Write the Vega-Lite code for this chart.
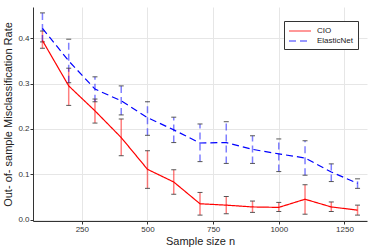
{
  "$schema": "https://vega.github.io/schema/vega-lite/v6.json",
  "width": 334,
  "height": 214,
  "autosize": "none",
  "padding": {"left": 33, "top": 7, "right": 7, "bottom": 28},
  "background": "white",
  "config": {
    "view": {"stroke": null},
    "font": "Liberation Sans",
    "axis": {
      "domainColor": "#333333",
      "domainWidth": 1,
      "tickColor": "#333333",
      "gridColor": "#e6e6e6",
      "gridWidth": 1,
      "labelFont": "Liberation Sans",
      "labelFontSize": 8,
      "labelColor": "#333333",
      "titleFont": "Liberation Sans",
      "titleFontSize": 11,
      "titleFontWeight": "normal",
      "titleColor": "#222222"
    },
    "legend": {
      "orient": "none",
      "legendX": 251,
      "legendY": 14,
      "symbolType": "M-1,0H3.4",
      "symbolSize": 100,
      "symbolStrokeWidth": 1.2,
      "symbolOpacity": 0.8,
      "labelFontSize": 8,
      "labelFont": "Liberation Sans",
      "labelColor": "#222222",
      "labelOffset": 17,
      "strokeColor": "#333333",
      "fillColor": "white",
      "padding": 4,
      "rowPadding": 0
    }
  },
  "data": {
    "values": [
      {"n": 100, "method": "CIO", "mean": 0.395, "lo": 0.378, "hi": 0.416},
      {"n": 200, "method": "CIO", "mean": 0.295, "lo": 0.252, "hi": 0.334},
      {"n": 300, "method": "CIO", "mean": 0.240, "lo": 0.213, "hi": 0.266},
      {"n": 400, "method": "CIO", "mean": 0.181, "lo": 0.141, "hi": 0.222},
      {"n": 500, "method": "CIO", "mean": 0.111, "lo": 0.069, "hi": 0.152},
      {"n": 600, "method": "CIO", "mean": 0.083, "lo": 0.056, "hi": 0.110},
      {"n": 700, "method": "CIO", "mean": 0.035, "lo": 0.010, "hi": 0.060},
      {"n": 800, "method": "CIO", "mean": 0.032, "lo": 0.013, "hi": 0.051},
      {"n": 900, "method": "CIO", "mean": 0.028, "lo": 0.016, "hi": 0.041},
      {"n": 1000, "method": "CIO", "mean": 0.027, "lo": 0.018, "hi": 0.038},
      {"n": 1100, "method": "CIO", "mean": 0.045, "lo": 0.012, "hi": 0.077},
      {"n": 1200, "method": "CIO", "mean": 0.028, "lo": 0.018, "hi": 0.039},
      {"n": 1300, "method": "CIO", "mean": 0.021, "lo": 0.010, "hi": 0.032},
      {"n": 100, "method": "ElasticNet", "mean": 0.422, "lo": 0.392, "hi": 0.456},
      {"n": 200, "method": "ElasticNet", "mean": 0.350, "lo": 0.302, "hi": 0.398},
      {"n": 300, "method": "ElasticNet", "mean": 0.288, "lo": 0.260, "hi": 0.315},
      {"n": 400, "method": "ElasticNet", "mean": 0.262, "lo": 0.231, "hi": 0.295},
      {"n": 500, "method": "ElasticNet", "mean": 0.225, "lo": 0.186, "hi": 0.260},
      {"n": 600, "method": "ElasticNet", "mean": 0.198, "lo": 0.170, "hi": 0.226},
      {"n": 700, "method": "ElasticNet", "mean": 0.169, "lo": 0.128, "hi": 0.211},
      {"n": 800, "method": "ElasticNet", "mean": 0.170, "lo": 0.124, "hi": 0.216},
      {"n": 900, "method": "ElasticNet", "mean": 0.155, "lo": 0.124, "hi": 0.185},
      {"n": 1000, "method": "ElasticNet", "mean": 0.145, "lo": 0.106, "hi": 0.178},
      {"n": 1100, "method": "ElasticNet", "mean": 0.136, "lo": 0.098, "hi": 0.174},
      {"n": 1200, "method": "ElasticNet", "mean": 0.105, "lo": 0.084, "hi": 0.123},
      {"n": 1300, "method": "ElasticNet", "mean": 0.080, "lo": 0.069, "hi": 0.090}
    ]
  },
  "encoding": {
    "x": {
      "field": "n",
      "type": "quantitative",
      "title": "Sample size n",
      "scale": {"domain": [64, 1336], "nice": false, "zero": false},
      "axis": {"values": [250, 500, 750, 1000, 1250], "format": "d", "tickSize": 3, "labelPadding": 1, "titlePadding": 2}
    }
  },
  "layer": [
    {
      "mark": {"type": "rule", "strokeWidth": 1.5, "opacity": 0.5},
      "encoding": {
        "y": {"field": "lo", "type": "quantitative"},
        "y2": {"field": "hi"},
        "color": {"field": "method", "type": "nominal", "title": null, "scale": {"domain": ["CIO", "ElasticNet"], "range": ["#ff0000", "#0000ff"]}},
        "strokeDash": {"field": "method", "type": "nominal", "title": null, "scale": {"domain": ["CIO", "ElasticNet"], "range": [[1, 0], [7, 4]]}}
      }
    },
    {
      "mark": {"type": "tick", "orient": "horizontal", "size": 5, "thickness": 1, "color": "#444444", "opacity": 0.9},
      "encoding": {"y": {"field": "lo", "type": "quantitative"}}
    },
    {
      "mark": {"type": "tick", "orient": "horizontal", "size": 5, "thickness": 1, "color": "#444444", "opacity": 0.9},
      "encoding": {"y": {"field": "hi", "type": "quantitative"}}
    },
    {
      "mark": {"type": "line", "strokeWidth": 1.2},
      "encoding": {
        "y": {
          "field": "mean",
          "type": "quantitative",
          "title": "Out- of- sample Misclassification Rate",
          "scale": {"domain": [-0.003, 0.469], "nice": false, "zero": false},
          "axis": {"values": [0, 0.1, 0.2, 0.3, 0.4], "format": ".1f", "tickSize": 3, "labelPadding": 1, "titlePadding": 4}
        },
        "color": {"field": "method", "type": "nominal", "title": null, "scale": {"domain": ["CIO", "ElasticNet"], "range": ["#ff0000", "#0000ff"]}},
        "strokeDash": {"field": "method", "type": "nominal", "title": null, "scale": {"domain": ["CIO", "ElasticNet"], "range": [[1, 0], [7, 4]]}}
      }
    }
  ]
}
